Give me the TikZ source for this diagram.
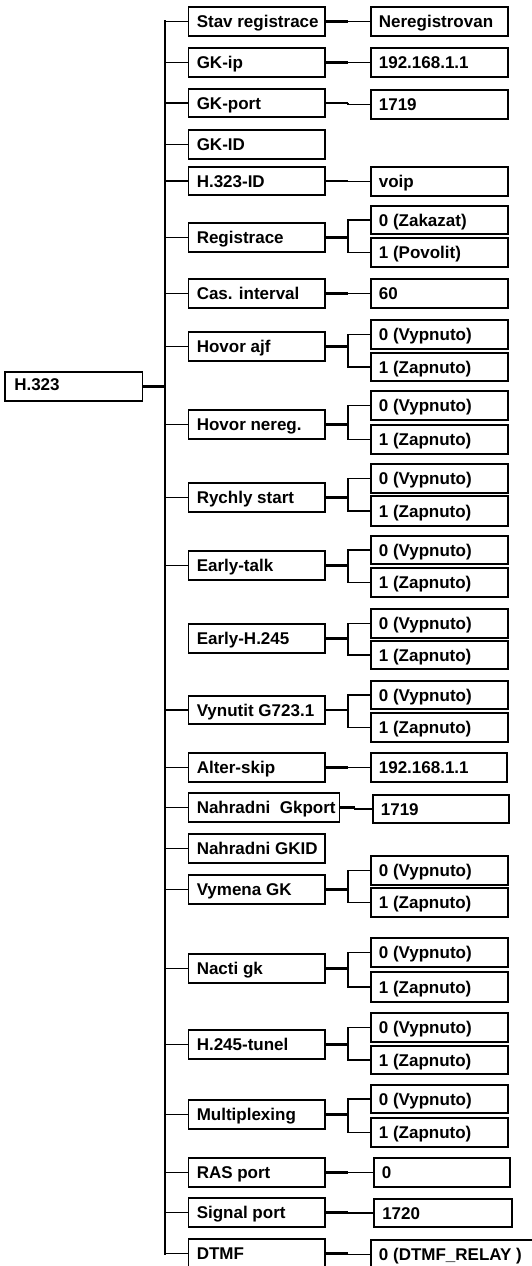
\documentclass[tikz,border=0pt]{standalone}
\usepackage{fontspec}
\setmainfont{Liberation Sans}
\tikzset{
  boxst/.style={draw, line width=1.9pt, inner sep=0pt},
  lbl/.style={inner sep=0pt, font=\bfseries\fontsize{17}{20}\selectfont, text height=12.2pt, text depth=0pt},
  trunkline/.style={line width=2.7pt, line cap=rect},
  branch/.style={line width=1.6pt},
  stub/.style={line width=2.3pt},
  leaf/.style={line width=1.5pt},
}
\newcommand\mkbox[6]{%
  \node[boxst, minimum width={(#4)-(#2)}, minimum height={(#5)-(#3)}] (#1) at ({((#2)+(#4))/2},{((#3)+(#5))/2}) {};
  \node[lbl, anchor=west] (#1-t) at ([xshift=9pt]#1.west) {#6};}
\begin{document}
\begin{tikzpicture}[x=1pt,y=-1pt]
\useasboundingbox (0,0) rectangle (532,1266);
\clip (0,0) rectangle (532,1266);
\coordinate (tx) at (165,0);
\coordinate (fx) at (348,0);
\coordinate (gx) at (355,0);
% root
\node[boxst, minimum width=137.5pt, minimum height=29pt] (h) at (73.75,386.5) {};
\node[lbl, anchor=west] (h-t) at ([xshift=10pt,yshift=2pt]h.west) {H.323};
% middle column
\mkbox{m1}{188.5}{7}{324.7}{36}{Stav registrace}
\mkbox{m2}{188.5}{48}{324.7}{77}{GK-ip}
\mkbox{m3}{188.5}{89}{324.7}{117}{GK-port}
\mkbox{m4}{188.5}{130}{324.7}{159}{GK-ID}
\mkbox{m5}{188.5}{167}{324.7}{195}{H.323-ID}
\mkbox{m6}{188.5}{223}{324.7}{252}{Registrace}
\mkbox{m7}{188.5}{279}{324.7}{308}{Cas. interval}
\mkbox{m8}{188.5}{332}{324.7}{361}{Hovor ajf}
\mkbox{m9}{188.5}{410}{324.7}{439}{Hovor nereg.}
\mkbox{m10}{188.5}{483}{324.7}{512}{Rychly start}
\mkbox{m11}{188.5}{551}{324.7}{580}{Early-talk}
\mkbox{m12}{188.5}{624}{324.7}{653}{Early-H.245}
\mkbox{m13}{188.5}{696}{324.7}{724}{Vynutit G723.1}
\mkbox{m14}{188.5}{753}{324.7}{782}{Alter-skip}
\mkbox{m15}{188.5}{793}{339.5}{822}{Nahradni~~Gkport}
\mkbox{m16}{188.5}{834}{324.7}{863}{Nahradni GKID}
\mkbox{m17}{188.5}{875}{324.7}{904}{Vymena GK}
\mkbox{m18}{188.5}{954}{324.7}{983}{Nacti gk}
\mkbox{m19}{188.5}{1030}{324.7}{1059}{H.245-tunel}
\mkbox{m20}{188.5}{1100}{324.7}{1129}{Multiplexing}
\mkbox{m21}{188.5}{1158}{324.7}{1187}{RAS port}
\mkbox{m22}{188.5}{1198}{324.7}{1227}{Signal port}
\mkbox{m23}{188.5}{1239}{324.7}{1268}{DTMF}
% single values
\mkbox{r1}{370.6}{7}{508}{36}{Neregistrovan}
\mkbox{r2}{370.6}{48}{508}{77}{192.168.1.1}
\mkbox{r3}{370.6}{90}{508}{119}{1719}
\mkbox{r5}{370.6}{167}{508}{196}{voip}
\mkbox{r7}{370.6}{279}{508}{308}{60}
\mkbox{r14}{370.6}{753}{507}{782}{192.168.1.1}
\mkbox{r15}{372.6}{795}{509}{823}{1719}
\mkbox{r21}{373.6}{1158}{510}{1187}{0}
\mkbox{r22}{374}{1199}{512}{1227}{1720}
\mkbox{r23}{370.7}{1240}{545}{1269}{0 (DTMF\_RELAY )}
% two-value options
\mkbox{a6}{370.6}{206}{508}{234}{0 (Zakazat)}
\mkbox{b6}{370.6}{238}{508}{267}{1 (Povolit)}
\foreach \m/\ay/\az/\by/\bz in {8/320/349/353/381, 9/391/420/425/454, 10/464/493/496/526,
  11/536/564/568/597, 12/609/638/641/669, 13/681/709/713/742, 17/856/885/888/917,
  18/938/967/972/1002, 19/1013/1042/1046/1074, 20/1085/1113/1118/1147}{
  \mkbox{a\m}{370.6}{\ay}{508}{\az}{0 (Vypnuto)}
  \mkbox{b\m}{370.6}{\by}{508}{\bz}{1 (Zapnuto)}
}
% trunk
\draw[trunkline] (tx |- m1.west) -- (tx |- m23.west);
\foreach \m in {1,2,3,4,5,6,7,8,9,10,11,13,14,15,16,17,18,19,20,21,22,23}
  \draw[branch] (tx |- m\m.west) -- (m\m.west);
\draw[line width=2.8pt] (h.east) -- (h.east -| tx);
% single connectors
\foreach \m in {1,2,3,5,7,14,21,22,23}{
  \draw[stub] (m\m.east) -- (m\m.east -| fx);
  \draw[leaf] (m\m.east -| fx) |- (r\m.west);
}
\draw[stub] (m15.east) -- (m15.east -| gx);
\draw[leaf] (m15.east -| gx) |- (r15.west);
% forks
\foreach \m in {6,8,9,10,11,12,13,17,18,19,20}{
  \draw[stub] (m\m.east) -- (m\m.east -| fx);
  \draw[leaf] (a\m.west) -| (fx |- b\m.west) -- (b\m.west);
}
\end{tikzpicture}
\end{document}
